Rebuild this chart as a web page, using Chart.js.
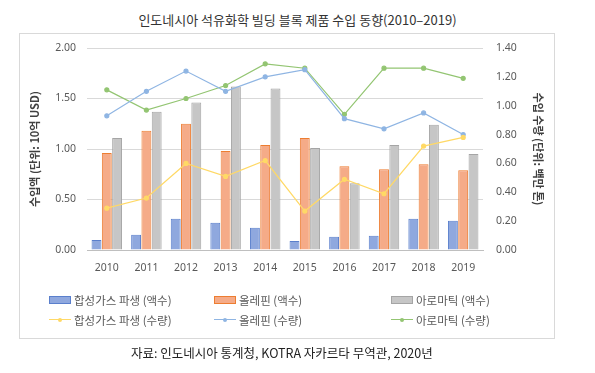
<!DOCTYPE html>
<html>
<head>
<meta charset="utf-8">
<script src="https://cdn.jsdelivr.net/npm/chart.js@4.4.0/dist/chart.umd.min.js"></script>
<style>
  body { margin: 0; background: #fff; font-family: "Noto Sans CJK KR", "Noto Sans", sans-serif; }
  #wrap { position: relative; width: 595px; height: 373px; overflow: hidden; }
  #title { position: absolute; left: 0; top: 10px; width: 595px; text-align: center; font-size: 13px; color: #333; }
  #box { position: absolute; left: 19px; top: 33px; width: 534px; height: 304px; border: 1px solid #d9d9d9; }
  #chart { position: absolute; left: 0; top: 0; }
  #legend { position: absolute; left: 0; top: 290px; width: 595px; height: 40px; }
  .item { position: absolute; font-size: 11.5px; color: #595959; display: flex; align-items: center; height: 16px; }
  .sw { width: 22px; height: 8px; margin-right: 3px; position: relative; box-sizing: border-box; }
  #source { position: absolute; left: 131px; top: 343px; font-size: 12.5px; color: #222; }
</style>
</head>
<body>
<div id="wrap">
  <div id="title">인도네시아 석유화학 빌딩 블록 제품 수입 동향(2010–2019)</div>
  <div id="box"></div>
  <canvas id="chart" width="595" height="373"></canvas>
  <div id="legend"></div>
  <div id="source">자료: 인도네시아 통계청, KOTRA 자카르타 무역관, 2020년</div>
</div>
<script>
const years = ["2010", "2011", "2012", "2013", "2014", "2015", "2016", "2017", "2018", "2019"];

// import value (left axis, billion USD)
const syngasValue = [0.10, 0.15, 0.31, 0.27, 0.22, 0.09, 0.13, 0.14, 0.31, 0.29];
const olefinValue = [0.96, 1.18, 1.25, 0.98, 1.04, 1.11, 0.83, 0.80, 0.85, 0.79];
const aromaticValue = [1.11, 1.37, 1.46, 1.62, 1.60, 1.01, 0.66, 1.04, 1.24, 0.95];

// import volume (right axis, million tons)
const syngasVolume = [0.29, 0.36, 0.60, 0.51, 0.62, 0.27, 0.49, 0.39, 0.72, 0.78];
const olefinVolume = [0.93, 1.10, 1.24, 1.10, 1.20, 1.25, 0.91, 0.84, 0.95, 0.80];
const aromaticVolume = [1.11, 0.97, 1.05, 1.14, 1.29, 1.26, 0.94, 1.26, 1.26, 1.19];

const leftTicks = { min: 0, max: 2, step: 0.5 };
const rightTicks = { min: 0, max: 1.4, step: 0.2 };

const tickFont = { family: "'Noto Sans', sans-serif", size: 10.5 };
const titleFont = { family: "'Noto Sans CJK KR', sans-serif", size: 11, weight: "bold" };

function barSet(label, data, fill, border) {
  return {
    type: "bar", label: label, data: data, yAxisID: "y",
    backgroundColor: fill, borderColor: border, borderWidth: 1,
    barPercentage: 0.96, categoryPercentage: 0.78, order: 2
  };
}
function lineSet(label, data, color) {
  return {
    type: "line", label: label, data: data, yAxisID: "y1",
    borderColor: color, backgroundColor: color, borderWidth: 1.2,
    pointRadius: 2, pointHoverRadius: 2, tension: 0, order: 1
  };
}

const datasets = [
  barSet("합성가스 파생 (액수)", syngasValue, "#8fa8de", "#5a7fcc"),
  barSet("올레핀 (액수)", olefinValue, "#f5ab88", "#ed7d31"),
  barSet("아로마틱 (액수)", aromaticValue, "#c6c6c6", "#a5a5a5"),
  lineSet("합성가스 파생 (수량)", syngasVolume, "#ffd966"),
  lineSet("올레핀 (수량)", olefinVolume, "#8fb5e3"),
  lineSet("아로마틱 (수량)", aromaticVolume, "#93c572")
];

const chart = new Chart(document.getElementById("chart").getContext("2d"), {
  data: { labels: years, datasets: datasets },
  options: {
    responsive: false,
    animation: false,
    layout: { padding: { left: 20, right: 42, top: 48, bottom: 93 } },
    plugins: { legend: { display: false }, tooltip: { enabled: false } },
    scales: {
      x: {
        grid: { display: false, drawTicks: false },
        border: { display: true, color: "#bfbfbf" },
        ticks: { color: "#595959", font: tickFont, padding: 12, maxRotation: 0 },
        afterFit: s => { s.height = 30; }
      },
      y: {
        position: "left",
        min: leftTicks.min, max: leftTicks.max,
        grid: { color: "#d9d9d9", drawTicks: false },
        border: { display: false },
        ticks: { stepSize: leftTicks.step, color: "#595959", font: tickFont, padding: 11,
                 callback: v => v.toFixed(2) },
        title: { display: true, text: "수입액 (단위: 10억 USD)", color: "#404040", font: titleFont,
                 padding: { top: 8, bottom: 0 } },
        afterFit: s => { s.width = 67; }
      },
      y1: {
        position: "right",
        min: rightTicks.min, max: rightTicks.max,
        grid: { display: false, drawTicks: false },
        border: { display: false },
        ticks: { stepSize: rightTicks.step, color: "#595959", font: tickFont, padding: 13,
                 callback: v => v.toFixed(2) },
        title: { display: true, text: "수입 수량 (단위: 백만 톤)", color: "#404040", font: titleFont,
                 padding: { top: 8, bottom: 0 } },
        afterFit: s => { s.width = 70; }
      }
    }
  }
});

// legend in three columns, two rows, built from the chart datasets
const legendCols = [49, 214, 391];
const legendRows = [2, 22];
const legend = document.getElementById("legend");
chart.data.datasets.forEach((ds, i) => {
  const item = document.createElement("div");
  item.className = "item";
  item.style.left = legendCols[i % 3] + "px";
  item.style.top = legendRows[Math.floor(i / 3)] + "px";
  const sw = document.createElement("span");
  sw.className = "sw";
  if (ds.type === "bar") {
    sw.style.background = ds.backgroundColor;
    sw.style.border = "1px solid " + ds.borderColor;
  } else {
    sw.innerHTML = '<span style="position:absolute;left:0;top:3px;width:22px;height:1.2px;background:' + ds.borderColor + '"></span>' +
      '<span style="position:absolute;left:9px;top:2px;width:4px;height:4px;border-radius:50%;background:' + ds.borderColor + '"></span>';
  }
  item.appendChild(sw);
  item.appendChild(document.createTextNode(ds.label));
  legend.appendChild(item);
});
</script>
</body>
</html>
